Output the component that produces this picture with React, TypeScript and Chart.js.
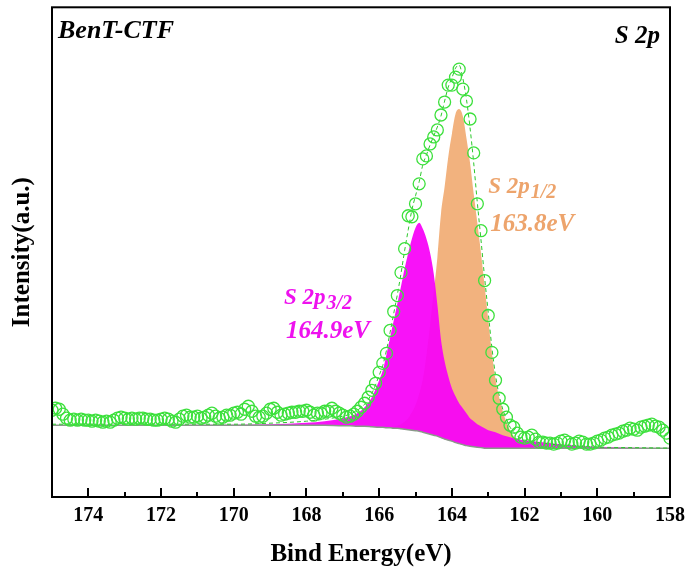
import React, { useEffect, useRef } from 'react';
import { Chart, registerables } from 'chart.js';

Chart.register(...registerables);

const FONT = '"Liberation Serif", "Times New Roman", Times, serif';

// XPS scan: 175.0 -> 158.0 eV in 0.1 eV steps
const scanStart = 175.0;
const scanStep = 0.1;
const measuredCounts = [
  87, 89, 88, 83, 79, 77, 78, 77, 78, 77,
  77, 76, 77, 76, 75, 76, 75, 77, 79, 80,
  79, 78, 79, 78, 79, 79, 78, 78, 77, 77,
  78, 79, 78, 76, 75, 78, 81, 82, 80, 80,
  81, 79, 80, 82, 84, 81, 79, 80, 82, 82,
  84, 85, 83, 88, 91, 86, 81, 80, 81, 84,
  88, 89, 85, 82, 83, 84, 85, 85, 86, 86,
  87, 85, 82, 84, 84, 86, 86, 89, 86, 84,
  82, 80, 81, 83, 86, 90, 94, 100, 107, 114,
  125, 134, 144, 167, 186, 202, 225, 249, 282, 281,
  294, 314, 339, 342, 354, 361, 368, 383, 396, 413,
  413, 421, 429, 409, 397, 379, 345, 294, 267, 217,
  182, 145, 117, 99, 88, 80, 72, 70, 64, 60,
  59, 60, 62, 58, 55, 55, 54, 54, 53, 54,
  56, 57, 55, 53, 54, 56, 55, 53, 53, 54,
  56, 57, 59, 60, 62, 63, 64, 66, 67, 69,
  68, 67, 70, 71, 72, 73, 71, 70, 67, 64,
  59,
];
const scanEnergies = measuredCounts.map((_, i) => +(scanStart - i * scanStep).toFixed(1));

// Fit curves (background, components, envelope)
const fitEnergies = [
  175, 170, 169, 168, 167.5, 167, 166.8, 166.6, 166.4, 166.2,
  166.0, 165.9, 165.8, 165.7, 165.6, 165.5, 165.4, 165.3, 165.2, 165.1,
  165.0, 164.9, 164.8, 164.7, 164.6, 164.5, 164.4, 164.3, 164.2, 164.1,
  164.0, 163.9, 163.8, 163.7, 163.6, 163.5, 163.4, 163.3, 163.2, 163.1,
  163.0, 162.9, 162.8, 162.7, 162.6, 162.5, 162.4, 162.3, 162.2, 162.1,
  162.0, 161.5, 161.0, 160.5, 160.0, 159.0, 158.0,
];
const backgroundCounts = [
  72, 72, 72, 72, 72, 71.5, 71.5, 71, 71, 70.5,
  70, 70, 69.5, 69.5, 69, 69, 68.5, 68, 67.5, 67,
  66.5, 66, 65, 64, 63, 62, 61, 59.5, 58, 57,
  56, 54.5, 53.5, 52.5, 51.5, 51, 50.5, 50, 49.5, 49,
  49, 49, 49, 49, 49, 49, 49, 49, 49, 49,
  49, 49, 49, 49, 49, 49, 49,
];
const s2p32Counts = [
  72, 72.5, 73, 74.5, 76, 79, 81, 84, 90, 100,
  117, 127, 143, 160, 177, 194, 211, 229, 245, 259,
  270, 275, 269, 259, 245, 224, 193, 158, 136, 121,
  109, 101, 94, 89, 84, 79, 76, 73, 71, 69,
  67, 66, 65, 63.5, 62, 61, 60, 59, 58.5, 57.5,
  57, 55, 53, 51.5, 50.5, 49.5, 49,
];
const s2p12Counts = [
  72, 72, 72, 72, 72, 71.5, 71.5, 71, 71.2, 70.8,
  70.5, 70.5, 70, 70.5, 70.5, 71.5, 73, 75.5, 79, 85,
  92, 103, 118, 142, 172, 205, 240, 284, 311, 341,
  364, 384, 389, 382, 360, 335, 304, 275, 245, 212,
  178, 145, 118, 100, 86, 75, 67, 61, 57, 54.5,
  53, 50.5, 49.5, 49, 49, 49, 49,
];
const envelopeCounts = [
  73, 73, 74, 76, 78, 81, 83, 87, 93, 104,
  122, 132, 147, 165, 184, 203, 224, 247, 268, 288,
  302, 316, 333, 343, 353, 362, 371, 382, 397, 411,
  420, 430, 433, 420, 399, 370, 335, 295, 258, 220,
  185, 150, 122, 102, 88, 78, 70, 65, 61, 59,
  57, 54, 52, 51, 50, 49.5, 49,
];

const xMajorTicks = [174, 172, 170, 168, 166, 164, 162, 160, 158];
const xMinorTicks = [175, 173, 171, 169, 167, 165, 163, 161, 159];

const sampleName = 'BenT-CTF';
const regionName = 'S 2p';
const peakLabels = [
  { main: 'S 2p', sub: '1/2', energy: '163.8eV', ev: 163.0, h1: 305, h2: 267, color: '#EDA46C' },
  { main: 'S 2p', sub: '3/2', energy: '164.9eV', ev: 168.62, h1: 194, h2: 159, color: '#EE11EE' },
];

const toXY = (xs: number[], ys: number[]) => xs.map((x, i) => ({ x, y: ys[i] }));

const decorPlugin = {
  id: 'decor',
  afterDatasetsDraw(chart: any) {
    const { ctx, chartArea: a, scales } = chart;
    const x = scales.x;
    const y = scales.y;
    ctx.save();
    ctx.strokeStyle = '#000';
    ctx.lineWidth = 2;
    ctx.strokeRect(a.left, a.top, a.right - a.left, a.bottom - a.top);
    ctx.beginPath();
    for (const v of xMajorTicks) {
      const px = Math.round(x.getPixelForValue(v));
      ctx.moveTo(px, a.bottom);
      ctx.lineTo(px, a.bottom - 9);
    }
    for (const v of xMinorTicks) {
      const px = Math.round(x.getPixelForValue(v));
      ctx.moveTo(px, a.bottom);
      ctx.lineTo(px, a.bottom - 5);
    }
    ctx.stroke();

    ctx.fillStyle = '#000';
    ctx.textBaseline = 'alphabetic';
    ctx.font = `italic bold 26px ${FONT}`;
    ctx.textAlign = 'left';
    ctx.fillText(sampleName, a.left + 6, a.top + 31);
    ctx.textAlign = 'right';
    ctx.font = `italic bold 25px ${FONT}`;
    ctx.fillText(regionName, a.right - 10, a.top + 36);

    ctx.textAlign = 'left';
    for (const p of peakLabels) {
      const px = x.getPixelForValue(p.ev);
      const py1 = y.getPixelForValue(p.h1);
      const py2 = y.getPixelForValue(p.h2);
      ctx.fillStyle = p.color;
      ctx.font = `italic bold 23px ${FONT}`;
      ctx.fillText(p.main, px, py1);
      const w = ctx.measureText(p.main).width;
      ctx.font = `italic bold 20px ${FONT}`;
      ctx.fillText(p.sub, px + w + 1, py1 + 5);
      ctx.font = `italic bold 25px ${FONT}`;
      ctx.fillText(p.energy, px + 2, py2);
    }
    ctx.restore();
  },
};

export default function App() {
  const ref = useRef<HTMLCanvasElement | null>(null);
  useEffect(() => {
    if (!ref.current) return;
    const chart = new Chart(ref.current, {
      type: 'line',
      data: {
        datasets: [
          {
            label: 'data',
            data: toXY(scanEnergies, measuredCounts),
            showLine: false,
            pointRadius: 6,
            pointBorderWidth: 1.3,
            pointBorderColor: '#3CE03C',
            pointBackgroundColor: 'rgba(0,0,0,0)',
            borderColor: '#3CE03C',
            backgroundColor: 'rgba(0,0,0,0)',
          },
          {
            label: 'envelope',
            data: toXY(fitEnergies, envelopeCounts),
            borderColor: '#2BC82B',
            borderWidth: 1,
            borderDash: [4, 3],
            pointRadius: 0,
            cubicInterpolationMode: 'monotone',
            fill: false,
          },
          {
            label: 'background',
            data: toXY(fitEnergies, backgroundCounts),
            borderColor: '#8A9A8A',
            borderWidth: 1.5,
            pointRadius: 0,
            cubicInterpolationMode: 'monotone',
            fill: false,
          },
          {
            label: 'S 2p3/2',
            data: toXY(fitEnergies, s2p32Counts),
            borderWidth: 0,
            borderColor: 'rgba(248,0,248,0.93)',
            backgroundColor: 'rgba(248,0,248,0.93)',
            pointRadius: 0,
            cubicInterpolationMode: 'monotone',
            fill: { target: 2 },
          },
          {
            label: 'S 2p1/2',
            data: toXY(fitEnergies, s2p12Counts),
            borderWidth: 0,
            borderColor: '#F2B27E',
            backgroundColor: '#F2B27E',
            pointRadius: 0,
            cubicInterpolationMode: 'monotone',
            fill: { target: 2 },
          },
        ],
      },
      options: {
        animation: false,
        responsive: true,
        maintainAspectRatio: false,
        layout: { padding: { top: 6, right: 20, left: 0, bottom: 0 } },
        plugins: {
          legend: { display: false },
          tooltip: { enabled: false },
        },
        scales: {
          x: {
            type: 'linear',
            min: 158,
            max: 175,
            reverse: true,
            grid: { display: false, drawTicks: false },
            border: { display: false },
            afterBuildTicks: (scale: any) => {
              scale.ticks = xMajorTicks.map((v) => ({ value: v }));
            },
            afterFit: (scale: any) => {
              scale.height = 74;
            },
            ticks: {
              color: '#000',
              padding: 7,
              maxRotation: 0,
              autoSkip: false,
              font: { family: FONT, size: 20, weight: 'bold' },
              callback: (v: any) => String(v),
            },
            title: {
              display: true,
              text: 'Bind Energy(eV)',
              color: '#000',
              font: { family: FONT, size: 25, weight: 'bold' },
              padding: { top: 0, bottom: 1 },
            },
          },
          y: {
            type: 'linear',
            min: 0,
            max: 491,
            grid: { display: false, drawTicks: false },
            border: { display: false },
            ticks: { display: false },
            afterFit: (scale: any) => {
              scale.width = 52;
            },
            title: {
              display: true,
              text: 'Intensity(a.u.)',
              color: '#000',
              font: { family: FONT, size: 25, weight: 'bold' },
              padding: { top: 8, bottom: 0 },
            },
          },
        },
      },
      plugins: [decorPlugin],
    });
    return () => chart.destroy();
  }, []);
  return (
    <div style={{ position: 'absolute', left: 0, top: 0, width: 692, height: 571, background: '#fff' }}>
      <canvas ref={ref} />
    </div>
  );
}
